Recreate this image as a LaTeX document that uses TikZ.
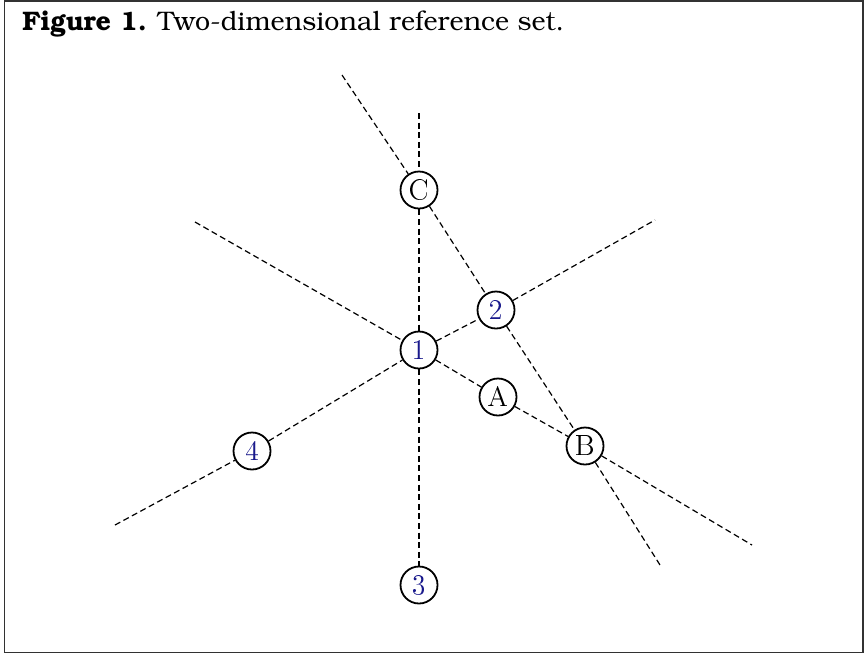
\documentclass[tikz,border=0pt]{standalone}
\usepackage[T1]{fontenc}
\usepackage{bookman}
\definecolor{numblue}{RGB}{25,25,140}
\definecolor{framegray}{RGB}{50,50,50}
\tikzset{
  pt/.style={circle,draw=black,line width=0.9pt,minimum size=18.5pt,inner sep=0pt,fill=white,
    font=\usefont{T1}{lmr}{m}{n}\fontsize{14}{16}\selectfont},
  num/.style={pt,text=numblue},
  ref/.style={pt,text=black},
  ray/.style={line width=0.6pt,dash pattern=on 3pt off 1.8pt}
}
\begin{document}
\begin{tikzpicture}[x=0.5pt,y=-0.5pt]
\useasboundingbox (0,0) rectangle (865,654);
\draw[framegray,line width=0.8pt] (4.5,1) rectangle (863,652.5);
\node[anchor=base west,inner sep=0pt,font=\fontsize{13.4}{16}\selectfont] (title) at (22,30)
  {\textbf{Figure 1.} Two-dimensional reference set.};
% nodes
\node[ref] (C) at (419,190) {C};
\node[num] (n1) at (419,350) {1};
\node[num] (n2) at (496,310) {2};
\node[ref] (A) at (498,397) {A};
\node[ref] (B) at (585,446) {B};
\node[num] (n4) at (252,451) {4};
\node[num] (n3) at (419,585) {3};
% free ends
\coordinate (vtop) at (419,113);
\coordinate (cTL) at (342,75);
\coordinate (cBR) at (660,565);
\coordinate (aTL) at (195,222);
\coordinate (aBR) at (752,545);
\coordinate (dBL) at (115,525);
\coordinate (dTR) at (655,220);
% vertical line
\draw[ray] (vtop) -- (C);
\draw[ray] (C) -- (n1);
\draw[ray] (n1) -- (n3);
% C-2-B line
\draw[ray] (cTL) -- (C);
\draw[ray] (C) -- (n2);
\draw[ray] (n2) -- (B);
\draw[ray] (B) -- (cBR);
% 1-A-B line
\draw[ray] (aTL) -- (n1);
\draw[ray] (n1) -- (A);
\draw[ray] (A) -- (B);
\draw[ray] (B) -- (aBR);
% 4-1-2 line
\draw[ray] (dBL) -- (n4);
\draw[ray] (n4) -- (n1);
\draw[ray] (n1) -- (n2);
\draw[ray] (n2) -- (dTR);
\end{tikzpicture}
\end{document}
